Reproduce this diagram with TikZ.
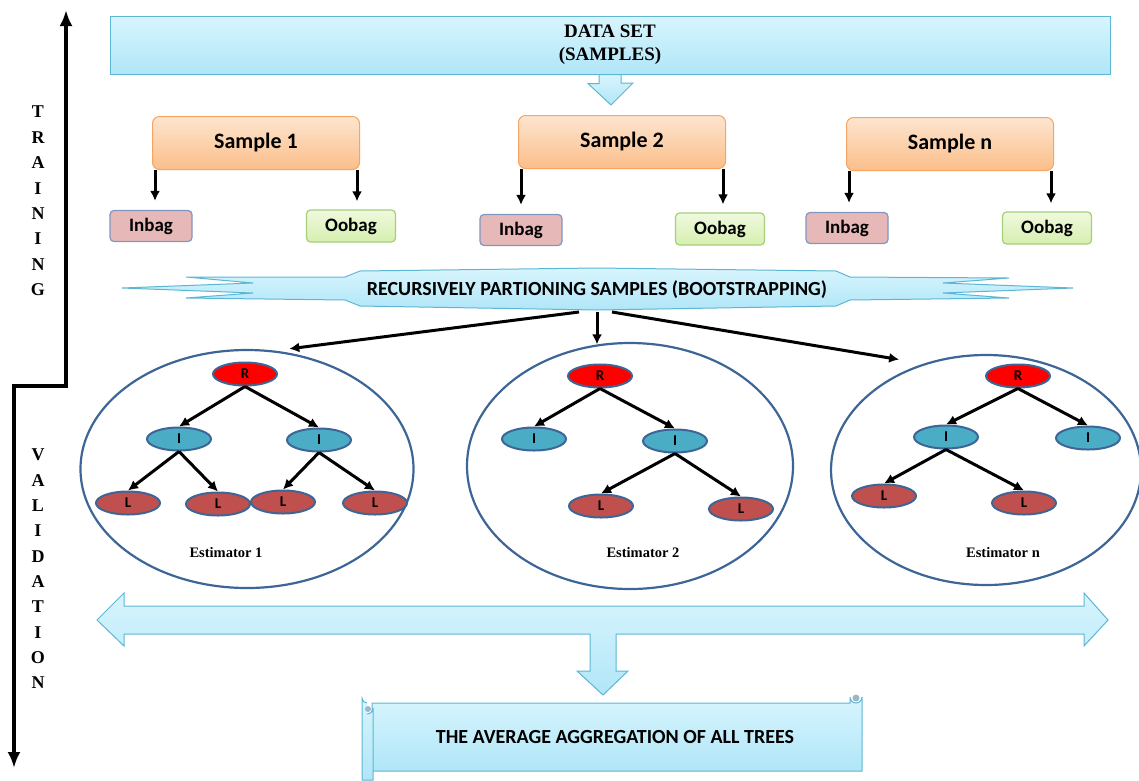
\documentclass[tikz,border=0pt]{standalone}
\usepackage{fontspec}
\setmainfont{Liberation Serif}
\newfontfamily\calibri{Carlito}
\usepackage{tikz}
\usetikzlibrary{arrows.meta,calc,positioning,shapes.geometric}
\definecolor{skytop}{HTML}{D8F5FD}
\definecolor{skybot}{HTML}{B0E6F8}
\definecolor{skyline}{HTML}{5DB6D3}
\definecolor{ortop}{HTML}{FDE5CF}
\definecolor{orbot}{HTML}{FBBE8A}
\definecolor{orline}{HTML}{F5A463}
\definecolor{infill}{HTML}{E6B9B8}
\definecolor{inline}{HTML}{7F96C0}
\definecolor{ootop}{HTML}{F0F9DE}
\definecolor{oobot}{HTML}{D5EFAE}
\definecolor{ooline}{HTML}{A5CF7A}
\definecolor{estline}{HTML}{3D6596}
\definecolor{ifill}{HTML}{4BACC6}
\definecolor{lfill}{HTML}{C0504D}
\definecolor{curl}{HTML}{9DB8C4}

\begin{document}
\begin{tikzpicture}[x=1pt,y=-1pt,>={Latex[length=10pt,width=10pt]},
  arr/.style={->,line width=3pt},
  axisarr/.style={{Latex[length=16pt,width=13pt]}-{Latex[length=16pt,width=13pt]},line width=3.6pt},
  skybox/.style={draw=skyline,line width=1pt,top color=skytop,bottom color=skybot},
  samplebox/.style={draw=orline,line width=1pt,rounded corners=7pt,top color=ortop,bottom color=orbot,
    minimum width=207pt,minimum height=53pt,font=\calibri\bfseries\fontsize{22}{25}\selectfont},
  inbox/.style={draw=inline,line width=1.2pt,fill=infill,rounded corners=4pt,minimum width=82pt,
    minimum height=31pt,font=\calibri\bfseries\fontsize{19}{21}\selectfont},
  oobox/.style={draw=ooline,line width=1.2pt,top color=ootop,bottom color=oobot,rounded corners=4pt,
    minimum width=89pt,minimum height=32pt,font=\calibri\bfseries\fontsize{19}{21}\selectfont},
  vlet/.style={font=\bfseries\fontsize{18}{20}\selectfont,inner sep=0},
  estim/.style={ellipse,draw=estline,line width=2.2pt,inner sep=0},
  esttext/.style={font=\bfseries\fontsize{14.5}{16}\selectfont},
  tnode/.style={ellipse,draw=estline,line width=2pt,minimum width=64pt,minimum height=23pt,
    inner sep=0,font=\calibri\bfseries\fontsize{15}{16}\selectfont},
  rnode/.style={tnode,fill=red},
  inode/.style={tnode,fill=ifill},
  lnode/.style={tnode,fill=lfill},
  treearr/.style={->,line width=3pt,>={Latex[length=10pt,width=10pt]}}]
\useasboundingbox (0,0) rectangle (1139,780);

% training / validation axis
\coordinate (ttop) at (66,10);
\coordinate (tbend) at (66,386);
\coordinate (vbend) at (14,386);
\coordinate (vbot) at (14,768);
\draw[axisarr,line join=miter] (ttop) -- (tbend) -- (vbend) -- (vbot);
\foreach \ch [count=\k] in {T,R,A,I,N,I,N,G}
  \node[vlet] (tr\k) at (38,{112+25.4*(\k-1)}) {\ch};
\foreach \ch [count=\k] in {V,A,L,I,D,A,T,I,O,N}
  \node[vlet] (va\k) at (38,{455+25.3*(\k-1)}) {\ch};

% data set
\node[skybox,minimum width=1000pt,minimum height=58pt,align=center,
  font=\bfseries\fontsize{19}{23}\selectfont] (ds) at (610,45) {DATA SET\\(SAMPLES)};
\path[skybox] ([xshift=-11pt]ds.south) -- ++(0,9) -- ++(-11,0) -- (611,105)
  -- (633,83) -- ([xshift=11pt]ds.south|-0,83) -- ([xshift=11pt]ds.south) -- cycle;

% samples
\node[samplebox] (s1) at (256,143) {Sample 1};
\node[samplebox] (s2) at (622,142) {Sample 2};
\node[samplebox] (sn) at (950,144) {Sample n};
\node[inbox] (in1) at (151,226) {Inbag};
\node[oobox] (oo1) at (351,226) {Oobag};
\node[inbox] (in2) at (521,230) {Inbag};
\node[oobox] (oo2) at (720,229) {Oobag};
\node[inbox] (inn) at (847,228) {Inbag};
\node[oobox] (oon) at (1047,228) {Oobag};
\foreach \s/\a/\b in {s1/in1/oo1,s2/in2/oo2,sn/inn/oon}{
  \draw[arr,shorten >=9pt] ([xshift=3pt]\s.south west) -- ([xshift=3pt]\s.south west|-\a.north);
  \draw[arr,shorten >=8pt] ([xshift=-3pt]\s.south east) -- ([xshift=-3pt]\s.south east|-\b.north);
}

% bootstrapping banner
\path[skybox] (360,271) -- (597,268) -- (836,271) -- (850,277) -- (1009,278) -- (943,283)
  -- (1073,288) -- (943,293) -- (1009,298) -- (850,300) -- (836,306) -- (597,310)
  -- (360,306) -- (345,300) -- (186,298) -- (253,293) -- (122,288) -- (253,283)
  -- (186,277) -- (345,277) -- cycle;
\node[font=\calibri\bfseries\fontsize{20}{22}\selectfont] (rec) at (597,290)
  {RECURSIVELY PARTIONING SAMPLES (BOOTSTRAPPING)};
\coordinate (fork) at (597,312);

% estimators
\node[estim,minimum width=333pt,minimum height=238pt] (e1) at (247,469) {};
\node[estim,minimum width=326pt,minimum height=246pt] (e2) at (630,466) {};
\node[estim,minimum width=310pt,minimum height=230pt] (e3) at (986,470) {};
\draw[arr] ([xshift=-18pt]fork) -- ([yshift=4pt]e1.70);
\draw[arr] (fork) -- (fork|-e2.105);
\draw[arr] ([xshift=15pt]fork) -- ([yshift=14pt]e3.132);

% tree 1
\node[rnode] (r1) at (245,374) {R};
\node[inode] (i1a) at (179,439) {I};
\node[inode] (i1b) at (319,440) {I};
\node[lnode] (l1a) at (128,503) {L};
\node[lnode] (l1b) at (218,504) {L};
\node[lnode] (l1c) at (283,502) {L};
\node[lnode] (l1d) at (375,503) {L};
% tree 2
\node[rnode] (r2) at (600,376) {R};
\node[inode] (i2a) at (534,439) {I};
\node[inode] (i2b) at (675,441) {I};
\node[lnode] (l2a) at (601,506) {L};
\node[lnode] (l2b) at (741,509) {L};
% tree n
\node[rnode] (r3) at (1018,376) {R};
\node[inode] (i3a) at (946,437) {I};
\node[inode] (i3b) at (1088,438) {I};
\node[lnode] (l3a) at (884,496) {L};
\node[lnode] (l3b) at (1024,503) {L};
\foreach \p/\c in {r1/i1a,r1/i1b,i1a/l1a,i1a/l1b,i1b/l1c,i1b/l1d,
  r2/i2a,r2/i2b,i2b/l2a,i2b/l2b,r3/i3a,r3/i3b,i3a/l3a,i3a/l3b}
  \draw[treearr] (\p.south) -- (\c.north);
\node[esttext] (lab1) at (226,553) {Estimator 1};
\node[esttext] (lab2) at (643,553) {Estimator 2};
\node[esttext] (lab3) at (1003,553) {Estimator n};

% validation double arrow with drop to aggregation
\path[skybox] (97,620) -- (124,593) -- (124,606) -- (1084,606) -- (1084,593) -- (1108,620)
  -- (1084,646) -- (1084,634) -- (616,634) -- (616,671) -- (628,671) -- (603,695)
  -- (577,671) -- (590,671) -- (590,634) -- (124,634) -- (124,646) -- cycle;

% aggregation scroll
\path[skybox] (372,703) -- (850,703) -- (850,697) arc[start angle=180,end angle=0,radius=6]
  -- (862,771) -- (372,771) -- cycle;
\fill[curl] (856,698) circle[radius=3.5];
\path[skybox] (367,703) arc[start angle=90,end angle=180,radius=5] -- (362,780) -- (373,780)
  -- (373,708) arc[start angle=0,end angle=90,radius=6];
\fill[curl] (368,709) circle[radius=3];
\node[font=\calibri\bfseries\fontsize{20}{22}\selectfont] (agg) at (615,737)
  {THE AVERAGE AGGREGATION OF ALL TREES};
\end{tikzpicture}
\end{document}
